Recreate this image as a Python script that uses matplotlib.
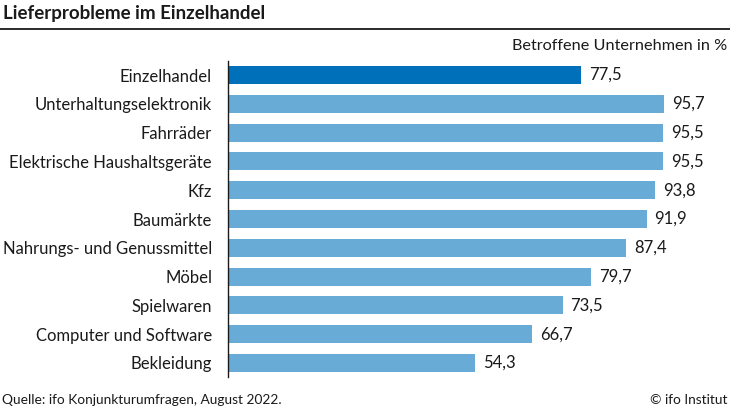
import matplotlib.pyplot as plt

categories = ['Einzelhandel', 'Unterhaltungselektronik', 'Fahrräder',
              'Elektrische Haushaltsgeräte', 'Kfz', 'Baumärkte',
              'Nahrungs- und Genussmittel', 'Möbel', 'Spielwaren',
              'Computer und Software', 'Bekleidung']
values = [77.5, 95.7, 95.5, 95.5, 93.8, 91.9, 87.4, 79.7, 73.5, 66.7, 54.3]

plt.rcParams['font.family'] = ['Lato', 'DejaVu Sans']

W, H = 730, 411
fig = plt.figure(figsize=(W / 100, H / 100), dpi=100)
ax = fig.add_axes([228 / W, 1 - 377.4 / H, 455.6 / W, (377.4 - 60.6) / H])

colors = ['#0070ba'] + ['#67abd6'] * (len(values) - 1)
y = list(range(len(values)))
ax.barh(y, values, height=0.63, color=colors)
for yi, v in zip(y, values):
    ax.text(v + 1.7, yi, f'{v:.1f}'.replace('.', ','), va='center', ha='left',
            fontsize=12, color='#1a1a1a')

ax.set_xlim(0, 100)
ax.set_ylim(len(values) - 0.5, -0.5)
ax.set_yticks(y)
ax.set_yticklabels(categories, fontsize=12, color='#1a1a1a')
ax.tick_params(axis='y', length=0, pad=11.5)
ax.set_xticks([])
for s in ['top', 'right', 'bottom']:
    ax.spines[s].set_visible(False)
ax.spines['left'].set_linewidth(1.0)
ax.spines['left'].set_color('#1a1a1a')

fig.text(3 / W, 1 - 14 / H, 'Lieferprobleme im Einzelhandel', fontsize=13.5,
         fontweight='bold', va='center', ha='left', color='#1a1a1a')
fig.add_artist(plt.Line2D([0, 1], [1 - 29 / H, 1 - 29 / H], color='#1a1a1a',
                          linewidth=1.3, transform=fig.transFigure))
fig.text(727 / W, 1 - 46 / H, 'Betroffene Unternehmen in %', fontsize=11.7,
         va='center', ha='right', color='#1a1a1a')
fig.text(2 / W, 1 - 400 / H, 'Quelle: ifo Konjunkturumfragen, August 2022.',
         fontsize=9.9, va='center', ha='left', color='#1a1a1a')
fig.text(727 / W, 1 - 400 / H, '© ifo Institut', fontsize=9.9,
         va='center', ha='right', color='#1a1a1a')

fig.savefig('out.png', dpi=100)
